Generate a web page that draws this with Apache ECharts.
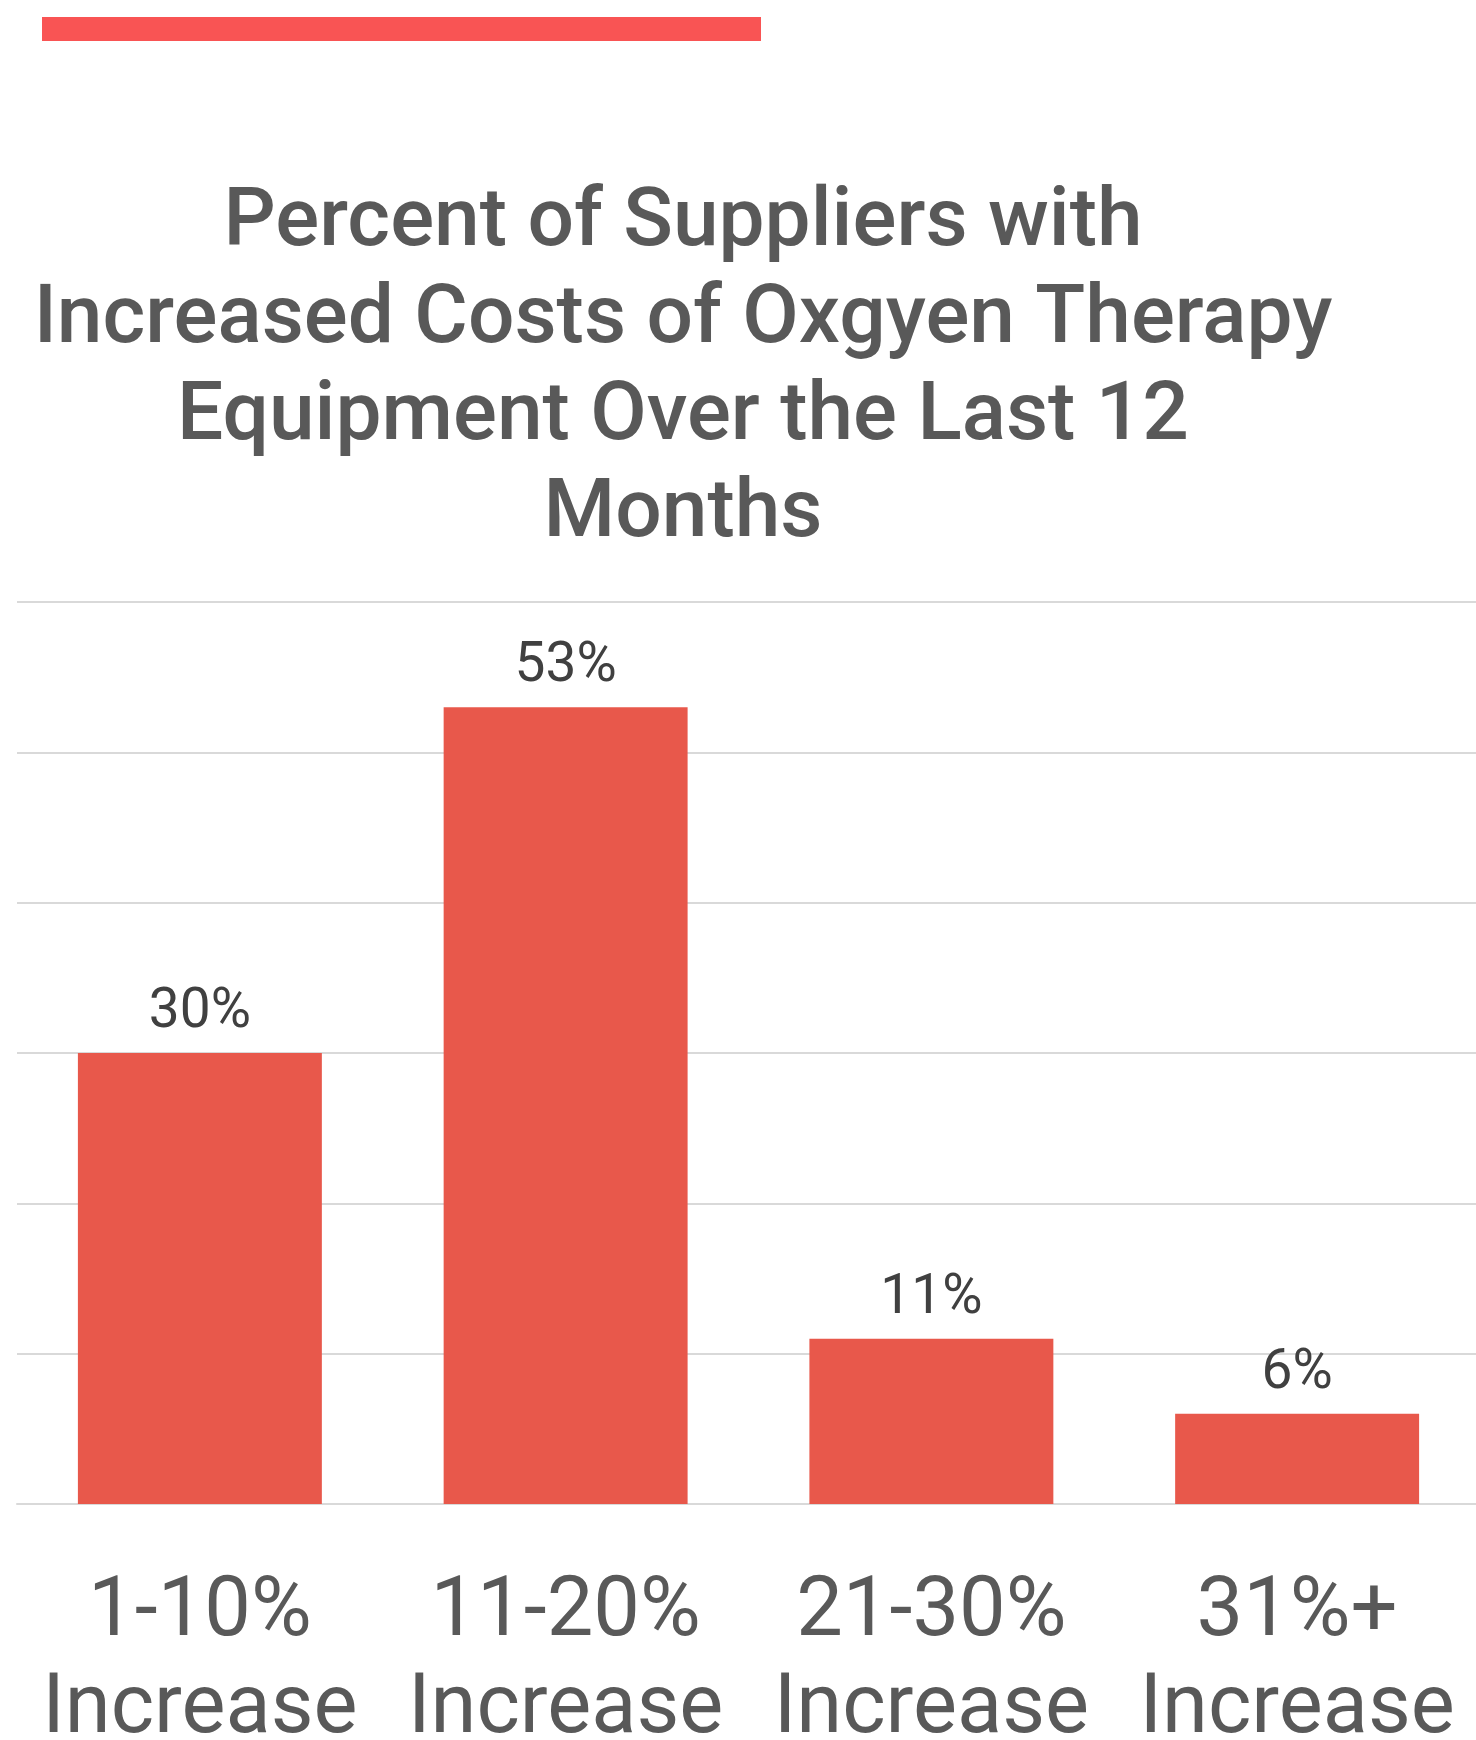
<!DOCTYPE html>
<html>
<head>
<meta charset="utf-8">
<script src="https://cdn.jsdelivr.net/npm/echarts@6/dist/echarts.min.js"></script>
<style>
  html, body { margin: 0; padding: 0; background: #ffffff; }
  #chart { width: 1476px; height: 1740px; }
</style>
</head>
<body>
<div id="chart"></div>
<script>
// Survey result: share of suppliers by size of cost increase
const categories = ['1-10%\nIncrease', '11-20%\nIncrease', '21-30%\nIncrease', '31%+\nIncrease'];
const shares = [30, 53, 11, 6];
const yTicks = [0, 10, 20, 30, 40, 50, 60];

const titleText = 'Percent of Suppliers with\nIncreased Costs of Oxgyen Therapy\nEquipment Over the Last 12\nMonths';

const chart = echarts.init(document.getElementById('chart'), null, { renderer: 'canvas' });

chart.setOption({
  backgroundColor: '#ffffff',
  animation: false,
  graphic: [{
    type: 'rect',
    left: 42,
    top: 17,
    shape: { width: 719, height: 24 },
    style: { fill: '#F95454' }
  }],
  title: {
    text: titleText,
    left: 678,
    top: 171,
    textAlign: 'center',
    textStyle: {
      fontFamily: 'Roboto',
      fontWeight: 500,
      fontSize: 82,
      lineHeight: 97,
      color: '#595959'
    }
  },
  grid: { left: 17, right: -4, top: 602, bottom: 236, containLabel: false, outerBoundsMode: 'none' },
  xAxis: {
    type: 'category',
    data: categories,
    axisLine: { show: true, lineStyle: { color: '#D9D9D9', width: 2 } },
    axisTick: { show: false },
    axisLabel: {
      interval: 0,
      margin: 62,
      fontFamily: 'Roboto',
      fontSize: 83,
      lineHeight: 97,
      color: '#595959'
    }
  },
  yAxis: {
    type: 'value',
    min: yTicks[0],
    max: yTicks[yTicks.length - 1],
    interval: 10,
    axisLabel: { show: false },
    axisLine: { show: false },
    axisTick: { show: false },
    splitLine: { show: true, lineStyle: { color: '#D9D9D9', width: 2 } }
  },
  series: [{
    type: 'bar',
    data: shares,
    barWidth: '66.7%',
    itemStyle: { color: '#E8584B' },
    label: {
      show: true,
      position: 'top',
      distance: 12,
      formatter: '{c}%',
      fontFamily: 'Roboto',
      fontSize: 55,
      color: '#404040'
    }
  }]
});
</script>
</body>
</html>
